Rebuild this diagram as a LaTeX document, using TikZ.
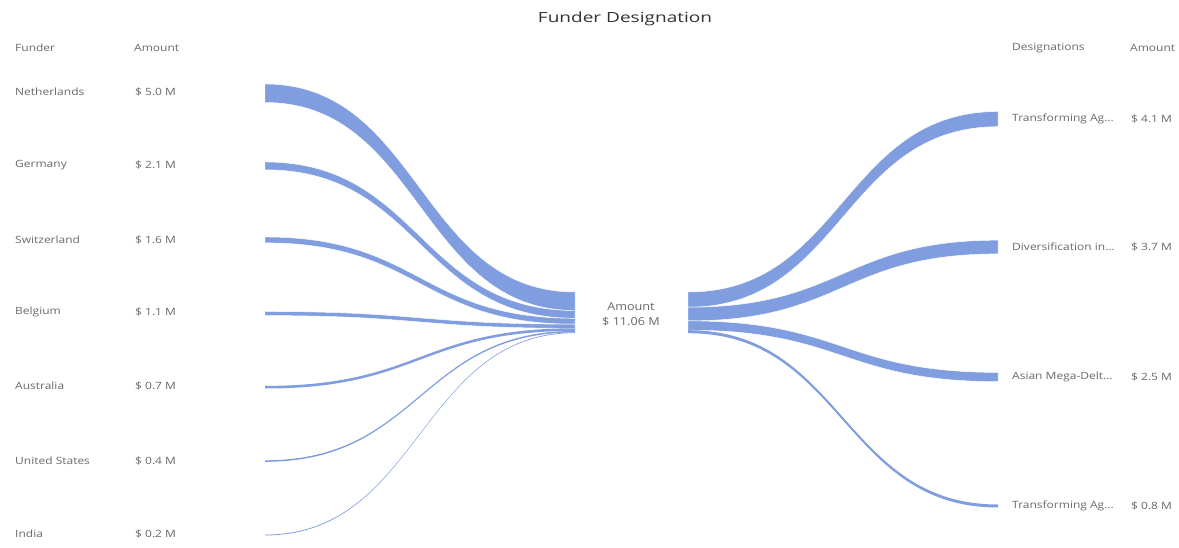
\documentclass[tikz,border=0pt]{standalone}
\usepackage{fontspec}
\setmainfont{Open Sans}
\definecolor{bandblue}{RGB}{128,158,223}
\definecolor{labelgray}{RGB}{105,105,105}
\definecolor{titlegray}{RGB}{50,50,50}
\newcommand\wide[2][1.2]{\scalebox{#1}[1]{#2}}
\newcommand\sband[7][band]{%
  \pgfmathsetmacro\xm{(#2+#5)/2}%
  \path[#1] (#2,#3) .. controls (\xm,#3) and (\xm,#6) .. (#5,#6)
    -- (#5,#7) .. controls (\xm,#7) and (\xm,#4) .. (#2,#4) -- cycle;}
\tikzset{
  band/.style={fill=bandblue},
  gapband/.style={fill=bandblue, draw=white, line width=0.45pt},
  lbl/.style={anchor=west, inner sep=0pt, text=labelgray, font=\fontsize{10}{12}\selectfont},
  hdr/.style={lbl},
  ttl/.style={anchor=center, inner sep=0pt, text=titlegray, font=\fontsize{14}{16}\selectfont},
  ctr/.style={anchor=center, inner sep=0pt, text=labelgray, font=\fontsize{11}{15}\selectfont, align=center}
}
\begin{document}
\begin{tikzpicture}[x=1pt,y=-1pt]
\useasboundingbox[fill=white] (0,0) rectangle (1179,548);
% title
\node[ttl] (title) at (625,19) {\wide[1.36]{Funder Designation}};
% headers
\node[hdr] (hfunder) at (15,48) {\wide{Funder}};
\node[hdr] (hamt) at (134,48) {\wide{Amount}};
\node[hdr] (hdes) at (1012,48) {\wide{Designations}};
\node[hdr] (hamt2) at (1130,48) {\wide{Amount}};
% left labels
\node[lbl] (f1) at (15,92) {\wide{Netherlands}};
\node[lbl] (a1) at (135,92) {\wide{\$ 5.0 M}};
\node[lbl] (f2) at (15,165) {\wide{Germany}};
\node[lbl] (a2) at (135,165) {\wide{\$ 2.1 M}};
\node[lbl] (f3) at (15,240) {\wide{Switzerland}};
\node[lbl] (a3) at (135,240) {\wide{\$ 1.6 M}};
\node[lbl] (f4) at (15,312) {\wide{Belgium}};
\node[lbl] (a4) at (135,312) {\wide{\$ 1.1 M}};
\node[lbl] (f5) at (15,386) {\wide{Australia}};
\node[lbl] (a5) at (135,386) {\wide{\$ 0.7 M}};
\node[lbl] (f6) at (15,461) {\wide{United States}};
\node[lbl] (a6) at (135,461) {\wide{\$ 0.4 M}};
\node[lbl] (f7) at (15,534) {\wide{India}};
\node[lbl] (a7) at (135,534) {\wide{\$ 0.2 M}};
% right labels
\node[lbl] (d1) at (1012,119) {\wide{Transforming Ag…}};
\node[lbl] (b1) at (1131,119) {\wide{\$ 4.1 M}};
\node[lbl] (d2) at (1012,247) {\wide{Diversification in…}};
\node[lbl] (b2) at (1131,247) {\wide{\$ 3.7 M}};
\node[lbl] (d3) at (1012,377) {\wide{Asian Mega-Delt…}};
\node[lbl] (b3) at (1131,377) {\wide{\$ 2.5 M}};
\node[lbl] (d4) at (1012,506) {\wide{Transforming Ag…}};
\node[lbl] (b4) at (1131,506) {\wide{\$ 0.8 M}};
% centre
\node[ctr] (centre) at (631,314) {\wide[1.15]{Amount}\\\wide[1.15]{\$ 11.06 M}};
% left bands
\sband[gapband]{265}{84}{102.5}{575}{292}{310.5}
\sband[gapband]{265}{162}{169.8}{575}{310.5}{318.3}
\sband[gapband]{265}{237}{242.9}{575}{318.3}{324.2}
\sband[gapband]{265}{311.5}{315.6}{575}{324.2}{328.3}
\sband{265}{385.9}{388.5}{575}{328.3}{330.9}
\sband{265}{460.3}{461.8}{575}{330.9}{332.4}
\sband{265}{534.6}{535.4}{575}{332.4}{333.1}
% right bands
\sband[gapband]{688}{292}{307.2}{998}{111.5}{126.7}
\sband[gapband]{688}{307.2}{320.9}{998}{240.2}{253.9}
\sband[gapband]{688}{320.9}{330.2}{998}{372.4}{381.6}
\sband{688}{330.2}{333.2}{998}{504.5}{507.5}
\end{tikzpicture}
\end{document}
